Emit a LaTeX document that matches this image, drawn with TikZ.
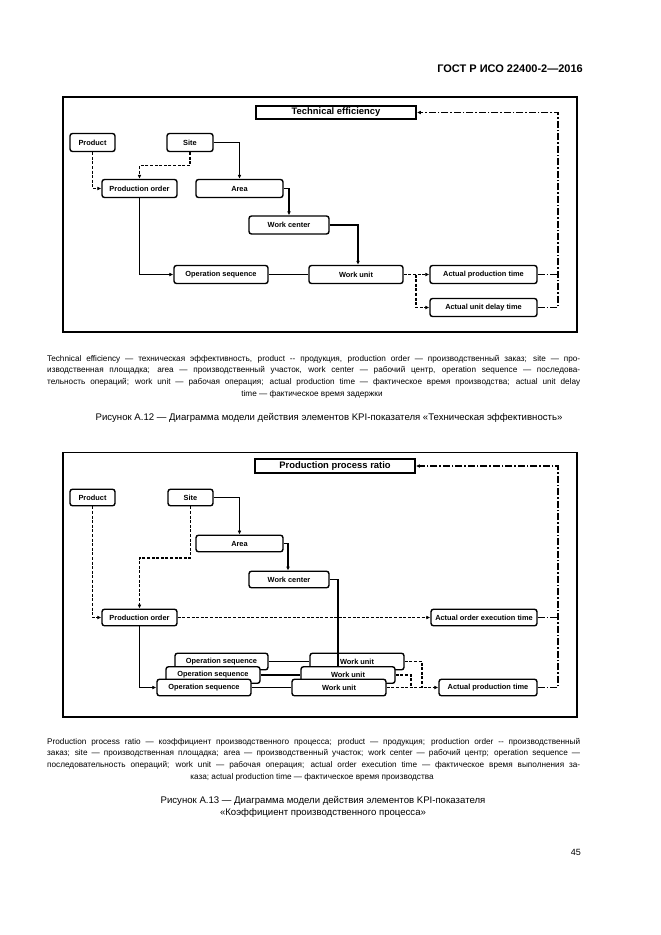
\documentclass[tikz,border=0pt]{standalone}
\usepackage{fontspec}
\setmainfont{Liberation Sans}
\usetikzlibrary{arrows.meta}
\begin{document}
\begin{tikzpicture}[x=1pt,y=-1pt,
  frame/.style={draw, line width=1.9pt},
  bx/.style={draw, line width=1.4pt, rounded corners=2.5pt, fill=white, inner sep=0pt, minimum height=18pt, font=\fontsize{7.4}{8}\selectfont\bfseries},
  bxs/.style={bx, minimum height=16.5pt},
  ttl/.style={draw, line width=1.8pt, fill=white, inner sep=0pt, font=\fontsize{9.4}{10}\selectfont\bfseries},
  conn/.style={line width=1.35pt},
  arr/.style={-{Latex[length=4pt,width=3.8pt]}},
  dsh/.style={dash pattern=on 3pt off 1.6pt},
  dd/.style={dash pattern=on 7pt off 2pt on 1.5pt off 2pt},
  captxt/.style={anchor=base west, inner sep=0pt, font=\fontsize{8.2}{9}\selectfont},
  captc/.style={anchor=base, inner sep=0pt, font=\fontsize{8.2}{9}\selectfont},
  figcap/.style={anchor=base, inner sep=0pt, font=\fontsize{9.6}{11}\selectfont}]
\useasboundingbox (0,0) rectangle (661,935);
\fill[white] (0,0) rectangle (661,935);

% header
\node[anchor=base east, inner sep=0pt, font=\fontsize{11}{12}\selectfont\bfseries] (hdr) at (583,72) {ГОСТ Р ИСО 22400-2—2016};

% ================= TOP DIAGRAM =================
\draw[frame] (63,97) rectangle (577,332);
\node[ttl, minimum width=160pt, minimum height=13pt] (te) at (336,112.5) {Technical efficiency};
\node[bx, minimum width=45pt] (prod) at (92.5,142.5) {Product};
\node[bx, minimum width=46pt] (site) at (190,142.5) {Site};
\node[bx, minimum width=75pt] (po) at (139.5,188.5) {Production order};
\node[bx, minimum width=87pt] (area) at (239.5,188.5) {Area};
\node[bx, minimum width=80pt] (wc) at (289,225) {Work center};
\node[bx, minimum width=94pt] (os) at (221,274.5) {Operation sequence};
\node[bx, minimum width=94pt] (wu) at (356,274.5) {Work unit};
\node[bx, minimum width=107pt] (apt) at (483.5,274.5) {Actual production time};
\node[bx, minimum width=107pt] (aud) at (483.5,307.5) {Actual unit delay time};

\draw[conn,dsh,arr] (prod.south) |- (po.west);
\draw[conn,dsh,arr] (site.south) -- ++(0,13.5) -| (po.north);
\draw[conn,arr] (site.east) -| (area.north);
\draw[conn,arr] (area.east) -| (wc.north);
\draw[conn,arr] (wc.east) -| ([xshift=2pt]wu.north);
\draw[conn,arr] (po.south) |- (os.west);
\draw[conn] (os.east) -- (wu.west);
\draw[conn,dsh,arr] (wu.east) -- (apt.west);
\coordinate (br) at (416,274.5);
\draw[conn,dsh,arr] (br) |- (aud.west);
\coordinate (fb) at (558,307.5);
\draw[conn,dd] (apt.east) -- (apt.east -| fb);
\draw[conn,dd,arr] (aud.east) -- (fb) |- (te.east);

% top caption
\node[captxt] (c1) at (47,361) {\makebox[533pt][s]{Technical efficiency — техническая эффективность, product -{}- продукция, production order — производственный заказ; site — про-}};
\node[captxt] (c2) at (47,372.7) {\makebox[533pt][s]{изводственная площадка; area — производственный участок, work center — рабочий центр, operation sequence — последова-}};
\node[captxt] (c3) at (47,384.4) {\makebox[533pt][s]{тельность операций; work unit — рабочая операция; actual production time — фактическое время производства; actual unit delay}};
\node[captc] (c4) at (312,396.1) {time — фактическое время задержки};
\node[figcap] (f1) at (329,420.5) {Рисунок А.12 — Диаграмма модели действия элементов KPI-показателя «Техническая эффективность»};

% ================= BOTTOM DIAGRAM =================
\draw[frame] (63,452.5) rectangle (577,717);
\node[ttl, minimum width=160pt, minimum height=14pt] (ppr) at (335,466) {Production process ratio};
\node[bxs, minimum width=45pt] (prod2) at (92.5,497.5) {Product};
\node[bxs, minimum width=45pt] (site2) at (190.5,497.5) {Site};
\node[bxs, minimum width=87pt] (area2) at (239.5,543.5) {Area};
\node[bxs, minimum width=80pt] (wc2) at (289,579.5) {Work center};
\node[bxs, minimum width=75pt] (po2) at (139.5,617.5) {Production order};
\node[bxs, minimum width=106pt] (aoet) at (484,617.5) {Actual order execution time};
\node[bxs, minimum width=98pt] (apt2) at (488,687.5) {Actual production time};

\draw[conn,dsh,arr] (prod2.south) |- (po2.west);
\draw[conn,dsh,arr] (site2.south) -- ++(0,51.5) -| (po2.north);
\draw[conn,arr] (site2.east) -| (area2.north);
\draw[conn,arr] (area2.east) -| ([xshift=-1pt]wc2.north);
\draw[conn,dsh,arr] (po2.east) -- (aoet.west);

% stacked operation sequences / work units
\node[bxs, minimum width=93pt] (osA) at (221.5,661.5) {Operation sequence};
\node[bxs, minimum width=94pt] (wuA) at (357,661.5) {Work unit};
\draw[conn] (osA.east) -- (wuA.west);
\draw[conn,dsh] (wuA.east) -| (422,687.5);
\draw[conn] (wc2.east) -| (338,667);

\node[bxs, minimum width=94pt] (osB) at (213,675) {Operation sequence};
\node[bxs, minimum width=94pt] (wuB) at (348,675) {Work unit};
\draw[conn] (osB.east) -- (wuB.west);
\draw[conn,dsh] (wuB.east) -| (411,687.5);

\node[bxs, minimum width=94pt] (osC) at (204,687.5) {Operation sequence};
\node[bxs, minimum width=94pt] (wuC) at (339,687.5) {Work unit};
\draw[conn,line width=1.8pt] (osC.east) -- (wuC.west);
\draw[conn,dsh,arr] (wuC.east) -- (apt2.west);
\draw[conn,arr] (po2.south) |- (osC.west);

\coordinate (fb2) at (558,687.5);
\draw[conn,dd] (aoet.east) -- (aoet.east -| fb2);
\draw[conn,dd,arr] (apt2.east) -- (fb2) |- (ppr.east);

% bottom caption
\node[captxt] (d1) at (47,744) {\makebox[533pt][s]{Production process ratio — коэффициент производственного процесса; product — продукция; production order -{}- производственный}};
\node[captxt] (d2) at (47,755.7) {\makebox[533pt][s]{заказ; site — производственная площадка; area — производственный участок; work center — рабочий центр; operation sequence —}};
\node[captxt] (d3) at (47,767.4) {\makebox[533pt][s]{последовательность операций; work unit — рабочая операция; actual order execution time — фактическое время выполнения за-}};
\node[captc] (d4) at (312,779.1) {каза; actual production time — фактическое время производства};
\node[figcap] (f2a) at (323,803.5) {Рисунок А.13 — Диаграмма модели действия элементов KPI-показателя};
\node[figcap] (f2b) at (323,815.5) {«Коэффициент производственного процесса»};

\node[anchor=base east, inner sep=0pt, font=\fontsize{9}{10}\selectfont] (pg) at (581,855) {45};
\end{tikzpicture}
\end{document}
